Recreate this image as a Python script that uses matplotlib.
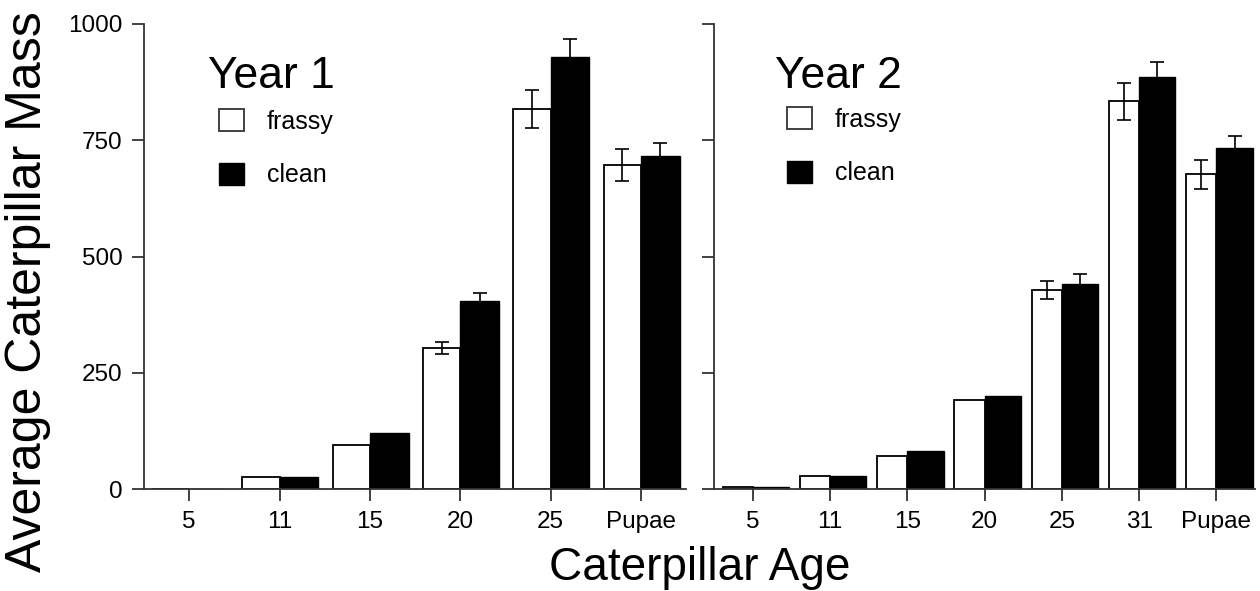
import numpy as np
import matplotlib
matplotlib.use("Agg")
import matplotlib.pyplot as plt
from matplotlib.patches import Patch

plt.rcParams['font.family'] = ['Liberation Sans', 'DejaVu Sans']

# Year 1
ages1 = ['5', '11', '15', '20', '25', 'Pupae']
frassy1 = [0, 26, 95, 303, 817, 697]
frassy1_err = [0, 0, 0, 13, 40, 34]
clean1 = [0, 26, 120, 404, 929, 716]
clean1_err = [0, 0, 0, 18, 39, 28]

# Year 2
ages2 = ['5', '11', '15', '20', '25', '31', 'Pupae']
frassy2 = [5, 28, 71, 191, 428, 834, 677]
frassy2_err = [0, 0, 0, 0, 20, 40, 31]
clean2 = [5, 28, 82, 200, 441, 886, 733]
clean2_err = [0, 0, 0, 0, 21, 32, 26]

W, H = 1260, 591
fig = plt.figure(figsize=(12.6, 5.91), dpi=100)

def panel(rect, ages, frassy, ferr, clean, cerr, wf, wc, ylabels, title, tx, leg_xy):
    ax = fig.add_axes(rect)
    x = np.arange(len(ages))
    ax.bar(x, frassy, width=-wf, align='edge', color='white', edgecolor='black', linewidth=1.3, zorder=2)
    ax.bar(x, clean, width=wc, align='edge', color='black', edgecolor='black', linewidth=1.0, zorder=2)
    fe = np.array(ferr, float)
    ce = np.array(cerr, float)
    m = fe > 0
    ax.errorbar(x[m] - wf / 2, np.array(frassy)[m], yerr=fe[m], fmt='none', ecolor='black',
                elinewidth=1.2, capsize=5, capthick=1.2, zorder=3)
    m = ce > 0
    ax.errorbar(x[m] + wc / 2, np.array(clean)[m], yerr=ce[m], fmt='none', ecolor='black',
                elinewidth=1.2, capsize=5, capthick=1.2, zorder=1)
    ax.set_xlim(-0.5, len(ages) - 0.5)
    ax.set_ylim(0, 1000)
    ax.set_xticks(x)
    ax.set_xticklabels(ages)
    ax.set_yticks([0, 250, 500, 750, 1000])
    if not ylabels:
        ax.set_yticklabels([])
    for s in ['top', 'right']:
        ax.spines[s].set_visible(False)
    for s in ['left', 'bottom']:
        ax.spines[s].set_color('#333333')
        ax.spines[s].set_linewidth(1.3)
    ax.tick_params(direction='out', length=8.5, width=1.3, color='#333333', labelsize=17.5, pad=7)
    fig.text(tx, 1 - 88 / H, title, fontsize=32, va='baseline', ha='left')
    handles = [Patch(facecolor='white', edgecolor='#333333', linewidth=1.3, label='frassy'),
               Patch(facecolor='black', edgecolor='black', label='clean')]
    ax.legend(handles=handles, loc='upper left', bbox_to_anchor=leg_xy, bbox_transform=fig.transFigure,
              frameon=False, fontsize=18, handlelength=1.0, handleheight=1.0, labelspacing=1.15,
              handletextpad=0.9, borderpad=0, borderaxespad=0)
    return ax

panel([144 / W, 102 / H, 542 / W, 465 / H], ages1, frassy1, frassy1_err, clean1, clean1_err,
      0.41, 0.43, True, 'Year 1', 208 / W, (219 / W, 1 - 109 / H))
panel([714 / W, 102 / H, 541 / W, 465 / H], ages2, frassy2, frassy2_err, clean2, clean2_err,
      0.39, 0.47, False, 'Year 2', 775 / W, (787 / W, 1 - 107 / H))

fig.text(28 / W, 0.506, 'Average Caterpillar Mass', rotation=90, fontsize=36, ha='center', va='center')
fig.text(700 / W, 1 - 580 / H, 'Caterpillar Age', fontsize=33, ha='center', va='baseline')

fig.savefig('out.png', dpi=100)
